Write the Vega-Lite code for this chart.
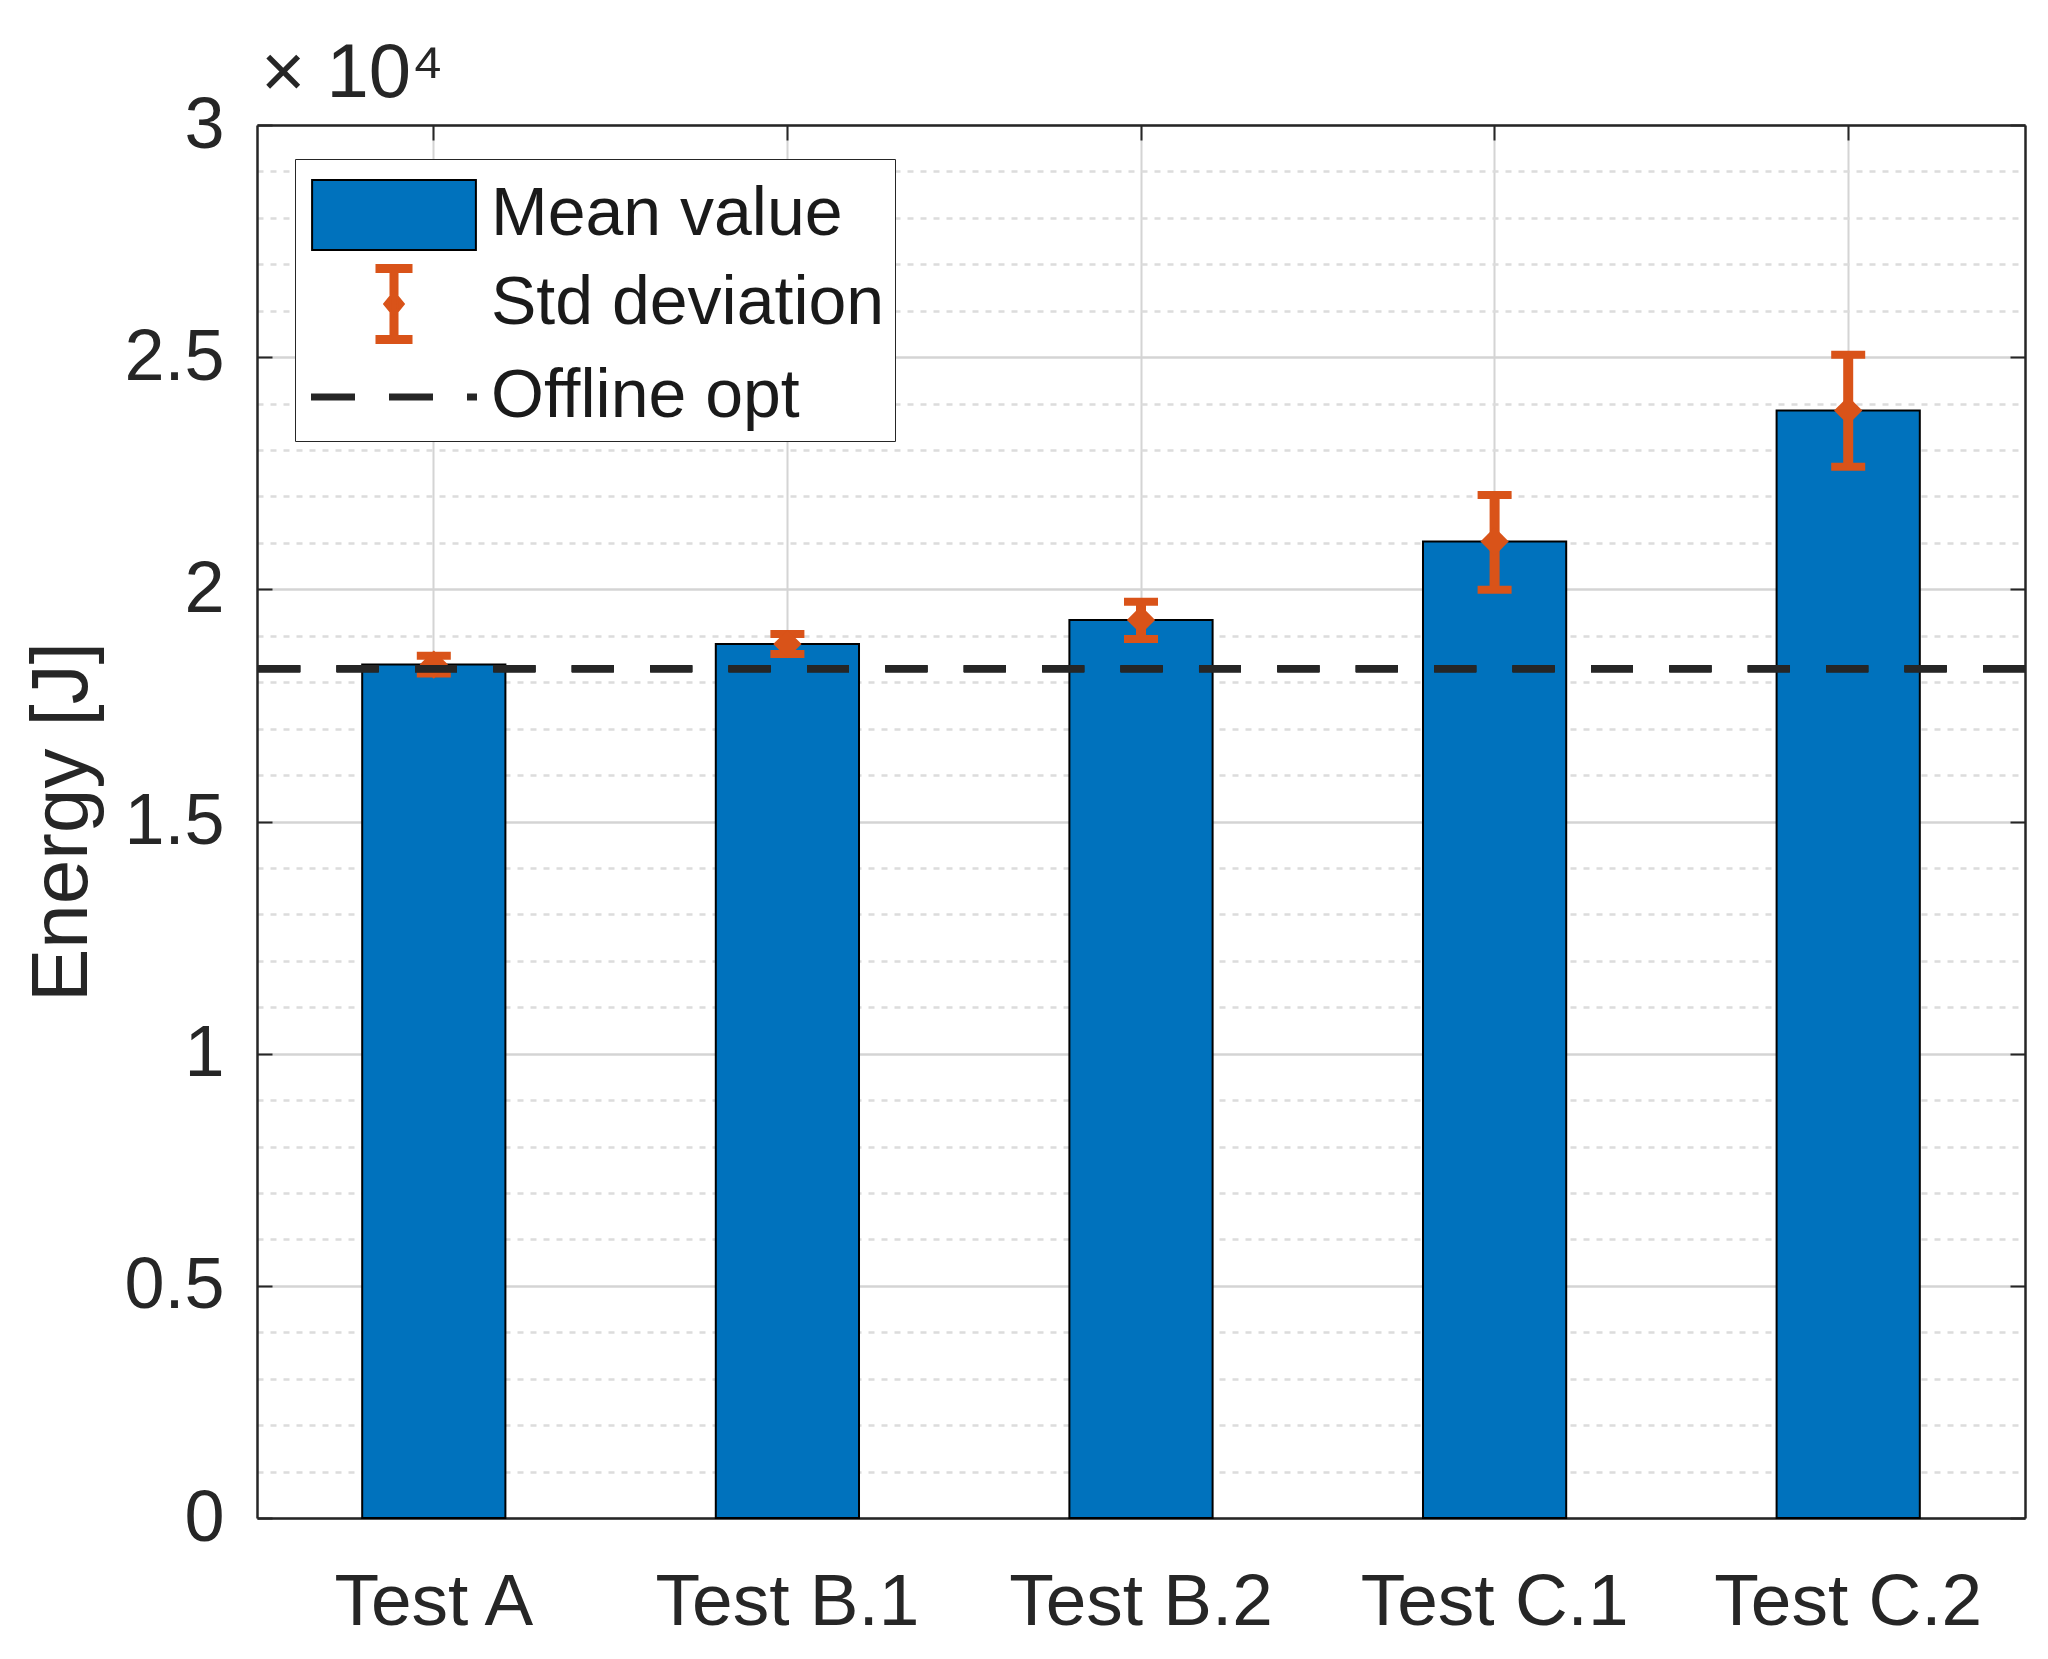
{
  "$schema": "https://vega.github.io/schema/vega-lite/v6.json",
  "width": 1768,
  "height": 1393,
  "autosize": "none",
  "padding": {"left": 257, "top": 125, "right": 23, "bottom": 141},
  "background": "white",
  "config": {
    "font": "Liberation Sans",
    "view": {"stroke": null},
    "axis": {"labelFont": "Liberation Sans", "titleFont": "Liberation Sans", "labelColor": "#262626", "titleColor": "#262626", "titleFontWeight": "normal"}
  },
  "title": {"text": "× 10⁴", "anchor": "start", "frame": "group", "fontSize": 76, "font": "Liberation Sans", "fontWeight": "normal", "color": "#262626", "baseline": "alphabetic", "offset": 22, "dy": 106, "dx": 4},
  "data": {
    "values": [
      {"test": "Test A", "mean": 18380, "lower": 18190, "upper": 18570},
      {"test": "Test B.1", "mean": 18820, "lower": 18610, "upper": 19040},
      {"test": "Test B.2", "mean": 19340, "lower": 18930, "upper": 19730},
      {"test": "Test C.1", "mean": 21030, "lower": 19990, "upper": 22030},
      {"test": "Test C.2", "mean": 23850, "lower": 22640, "upper": 25050}
    ]
  },
  "resolve": {"axis": {"x": "independent", "y": "independent"}},
  "layer": [
    {
      "mark": {"type": "bar", "width": {"band": 0.405}, "color": "#0072BD", "stroke": "#000000", "strokeWidth": 2},
      "encoding": {
        "x": {
          "field": "test", "type": "nominal", "sort": null,
          "scale": {"type": "band", "paddingInner": 0, "paddingOuter": 0},
          "axis": {
            "orient": "bottom", "title": null, "labelAngle": 0, "bandPosition": 0.5,
            "labelFontSize": 73, "labelPadding": 63, "labelBaseline": "top", "labelLimit": 1000,
            "tickSize": -15, "tickWidth": 2, "tickColor": "#262626",
            "domainColor": "#262626", "domainWidth": 2.5,
            "grid": true, "gridColor": "#d4d4d4", "gridWidth": 2,
            "labelOverlap": false
          }
        },
        "y": {
          "field": "mean", "type": "quantitative",
          "scale": {"domain": [0, 30000], "nice": false},
          "axis": {
            "orient": "left",
            "title": "Energy [J]", "titleFontSize": 80, "titlePadding": 20,
            "values": [0, 5000, 10000, 15000, 20000, 25000, 30000],
            "labelExpr": "'' + (datum.value / 10000)",
            "labelFontSize": 72, "labelPadding": 48, "labelOverlap": false, "labelFlush": false,
            "tickSize": -15, "tickWidth": 2, "tickColor": "#262626",
            "domainColor": "#262626", "domainWidth": 2.5,
            "grid": true, "gridColor": "#d4d4d4", "gridWidth": 2.5
          }
        }
      }
    },
    {
      "mark": {"type": "rule", "strokeWidth": 10, "color": "#D95319"},
      "encoding": {
        "x": {
          "field": "test", "type": "nominal", "sort": null,
          "axis": {
            "orient": "top", "title": null, "labels": false, "bandPosition": 0.5,
            "tickSize": -15, "tickWidth": 2, "tickColor": "#262626",
            "domainColor": "#262626", "domainWidth": 2.5, "grid": false
          }
        },
        "y": {
          "field": "lower", "type": "quantitative",
          "axis": {
            "orient": "right", "title": null, "labels": false,
            "values": [0, 5000, 10000, 15000, 20000, 25000, 30000],
            "tickSize": -15, "tickWidth": 2, "tickColor": "#262626",
            "domainColor": "#262626", "domainWidth": 2.5, "grid": false
          }
        },
        "y2": {"field": "upper"}
      }
    },
    {
      "mark": {"type": "tick", "color": "#D95319", "size": 34, "thickness": 8, "opacity": 1},
      "encoding": {
        "x": {"field": "test", "type": "nominal", "sort": null, "axis": null},
        "y": {
          "field": "upper", "type": "quantitative",
          "axis": {
            "orient": "left", "title": null, "labels": false, "ticks": false, "domain": false,
            "values": [1000,2000,3000,4000,6000,7000,8000,9000,11000,12000,13000,14000,16000,17000,18000,19000,21000,22000,23000,24000,26000,27000,28000,29000],
            "grid": true, "gridColor": "#dcdcdc", "gridWidth": 2.5, "gridDash": [6, 7]
          }
        }
      }
    },
    {
      "mark": {"type": "tick", "color": "#D95319", "size": 34, "thickness": 8, "opacity": 1},
      "encoding": {
        "x": {"field": "test", "type": "nominal", "sort": null, "axis": null},
        "y": {"field": "lower", "type": "quantitative", "axis": null}
      }
    },
    {
      "mark": {"type": "point", "shape": "diamond", "filled": true, "color": "#D95319", "size": 800, "opacity": 1},
      "encoding": {
        "x": {"field": "test", "type": "nominal", "sort": null, "axis": null},
        "y": {"field": "mean", "type": "quantitative", "axis": null}
      }
    },
    {
      "mark": {"type": "rule", "strokeWidth": 7, "color": "#262626", "strokeDash": [42, 36.4]},
      "encoding": {
        "y": {"datum": 18290, "type": "quantitative", "axis": null}
      }
    },
    {
      "data": {"values": [{"entry": "Mean value"}, {"entry": "Std deviation"}, {"entry": "Offline opt"}]},
      "mark": {"type": "point", "filled": true, "opacity": 0},
      "encoding": {
        "color": {
          "field": "entry", "type": "nominal",
          "scale": {"domain": ["Mean value", "Std deviation", "Offline opt"], "range": ["#0072BD", "#D95319", "#262626"]},
          "legend": {
            "title": null, "orient": "none", "legendX": 38, "legendY": 34,
            "fillColor": "white", "strokeColor": "#262626",
            "padding": 10, "rowPadding": 3,
            "symbolSize": 8100, "symbolOffset": 43, "labelOffset": 51,
            "symbolOpacity": 1, "symbolStrokeWidth": 2,
            "labelFontSize": 68, "labelFont": "Liberation Sans", "labelColor": "#1a1a1a", "labelLimit": 1000,
            "cornerRadius": 0
          }
        },
        "shape": {
          "field": "entry", "type": "nominal",
          "scale": {"domain": ["Mean value", "Std deviation", "Offline opt"], "range": [
            "M-1.82,-0.78H1.82V0.78H-1.82Z",
            "M-0.389,-0.867H0.389V-0.711H0.078V0.711H0.389V0.867H-0.389V0.711H-0.078V-0.711H-0.389Z M0,-0.27L0.22,0L0,0.27L-0.22,0Z",
            "M-1.822,-0.056H-0.889V0.056H-1.822Z M-0.089,-0.056H0.844V0.056H-0.089Z M1.644,-0.056H1.822V0.056H1.644Z"
          ]},
          "legend": {
            "title": null, "orient": "none", "legendX": 38, "legendY": 34,
            "fillColor": "white", "strokeColor": "#262626",
            "padding": 10, "rowPadding": 3,
            "symbolSize": 8100, "symbolOffset": 43, "labelOffset": 51,
            "symbolOpacity": 1, "symbolStrokeWidth": 2,
            "labelFontSize": 68, "labelFont": "Liberation Sans", "labelColor": "#1a1a1a", "labelLimit": 1000,
            "cornerRadius": 0
          }
        },
        "stroke": {
          "field": "entry", "type": "nominal",
          "scale": {"domain": ["Mean value", "Std deviation", "Offline opt"], "range": ["#000000", "#D95319", "#262626"]},
          "legend": {
            "title": null, "orient": "none", "legendX": 38, "legendY": 34,
            "fillColor": "white", "strokeColor": "#262626",
            "padding": 10, "rowPadding": 3,
            "symbolSize": 8100, "symbolOffset": 43, "labelOffset": 51,
            "symbolOpacity": 1, "symbolStrokeWidth": 2,
            "labelFontSize": 68, "labelFont": "Liberation Sans", "labelColor": "#1a1a1a", "labelLimit": 1000,
            "cornerRadius": 0
          }
        }
      }
    }
  ]
}
